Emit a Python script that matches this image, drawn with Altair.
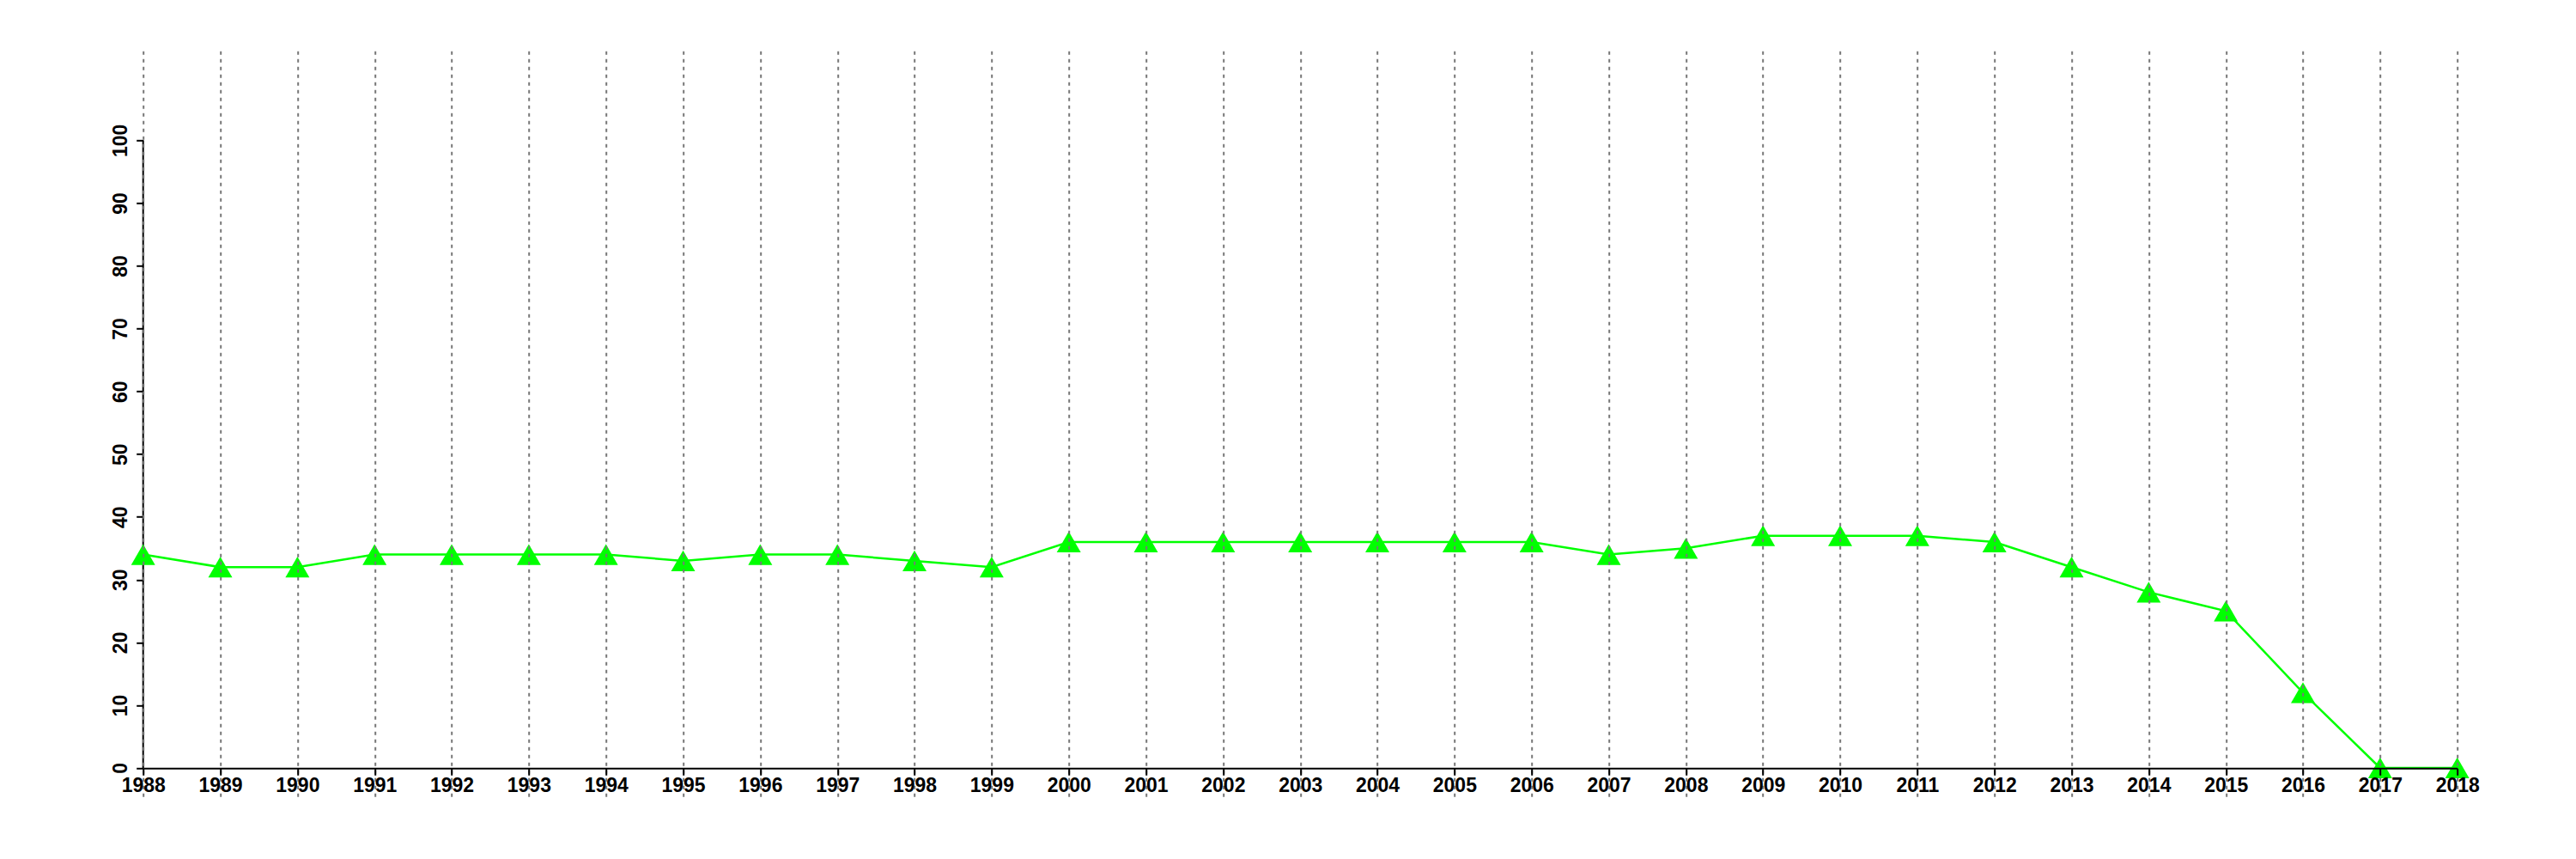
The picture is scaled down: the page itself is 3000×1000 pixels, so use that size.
import altair as alt
import pandas as pd

years = list(range(1988, 2019))
values = [34, 32, 32, 34, 34, 34, 34, 33, 34, 34, 33, 32, 36, 36, 36, 36, 36, 36, 36,
          34, 35, 37, 37, 37, 36, 32, 28, 25, 12, 0, 0]
y_ticks = list(range(0, 101, 10))

df = pd.DataFrame({"year": years, "value": values})
axis_df = pd.DataFrame({"year": [years[0]], "lo": [y_ticks[0]], "hi": [y_ticks[-1]]})

FONT = "Liberation Sans"

x_scale = alt.Scale(domain=[years[0], years[-1]], nice=False, zero=False)
y_scale = alt.Scale(domain=[-4.56, 114.25], nice=False, zero=False)

x_axis = alt.Axis(
    values=years, format="d", title=None,
    grid=True, gridColor="#777777", gridDash=[4, 5], gridWidth=2, gridOpacity=1,
    domain=True, domainColor="black", domainWidth=2,
    ticks=True, tickColor="black", tickWidth=2, tickSize=8,
    labelFont=FONT, labelFontSize=23, labelFontWeight="bold", labelColor="black",
    labelPadding=1, labelOverlap=False, offset=-33, labelFlush=False, zindex=1,
)
y_axis = alt.Axis(
    values=y_ticks, title=None, grid=False, domain=False,
    ticks=True, tickColor="black", tickWidth=2, tickSize=8,
    labelFont=FONT, labelFontSize=23, labelFontWeight="bold", labelColor="black",
    labelAngle=270, labelAlign="center", labelBaseline="bottom", labelPadding=6,
)

base = alt.Chart(df)

line = base.mark_line(color="#00ff00", strokeWidth=2.5).encode(
    x=alt.X("year:Q", scale=x_scale, axis=x_axis),
    y=alt.Y("value:Q", scale=y_scale, axis=y_axis),
)
points = base.mark_point(shape="triangle-up", filled=True, color="#00ff00",
                         size=784, opacity=1).encode(
    x=alt.X("year:Q", scale=x_scale),
    y=alt.Y("value:Q", scale=y_scale),
)
yline = alt.Chart(axis_df).mark_rule(color="black", strokeWidth=2).encode(
    x=alt.X("year:Q", scale=x_scale),
    y=alt.Y("lo:Q", scale=y_scale),
    y2="hi:Q",
)

chart = alt.layer(yline, line, points).properties(
    width=2695, height=868,
    background="white",
    autosize=alt.AutoSizeParams(type="none"),
    padding={"left": 158.7, "top": 51.3, "right": 100, "bottom": 50},
).configure_view(stroke=None)

chart.save("out.html", embed_options={"renderer": "svg", "actions": False})
